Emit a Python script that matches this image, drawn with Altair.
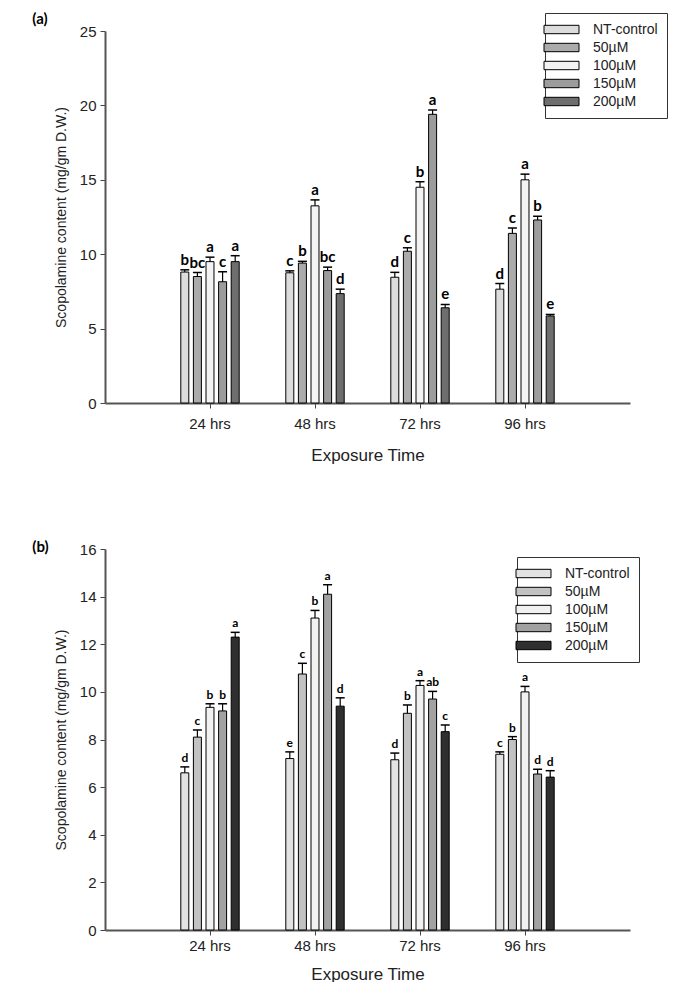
import altair as alt
import pandas as pd

times = ["24 hrs", "48 hrs", "72 hrs", "96 hrs"]
treatments = ["NT-control", "50µM", "100µM", "150µM", "200µM"]

# Panel (a): one list per exposure time, in treatment order
a_24_values = [8.8, 8.5, 9.5, 8.15, 9.5]
a_48_values = [8.75, 9.4, 13.25, 8.9, 7.35]
a_72_values = [8.45, 10.2, 14.5, 19.4, 6.4]
a_96_values = [7.65, 11.4, 15.0, 12.3, 5.85]
a_24_err = [0.15, 0.27, 0.3, 0.67, 0.4]
a_48_err = [0.13, 0.12, 0.4, 0.23, 0.3]
a_72_err = [0.33, 0.23, 0.37, 0.29, 0.22]
a_96_err = [0.38, 0.36, 0.38, 0.25, 0.1]
a_24_letters = ["b", "bc", "a", "c", "a"]
a_48_letters = ["c", "b", "a", "bc", "d"]
a_72_letters = ["d", "c", "b", "a", "e"]
a_96_letters = ["d", "c", "a", "b", "e"]

# Panel (b)
b_24_values = [6.6, 8.1, 9.35, 9.2, 12.3]
b_48_values = [7.2, 10.75, 13.1, 14.1, 9.4]
b_72_values = [7.15, 9.1, 10.27, 9.7, 8.33]
b_96_values = [7.38, 8.0, 10.0, 6.55, 6.42]
b_24_err = [0.25, 0.3, 0.15, 0.3, 0.2]
b_48_err = [0.28, 0.45, 0.32, 0.4, 0.35]
b_72_err = [0.28, 0.35, 0.2, 0.32, 0.28]
b_96_err = [0.1, 0.12, 0.23, 0.2, 0.27]
b_24_letters = ["d", "c", "b", "b", "a"]
b_48_letters = ["e", "c", "b", "a", "d"]
b_72_letters = ["d", "b", "a", "ab", "c"]
b_96_letters = ["c", "b", "a", "d", "d"]

a_colors = ["#dcdcdc", "#ababab", "#f3f3f3", "#9c9c9c", "#6e6e6e"]
b_colors = ["#e2e2e2", "#c2c2c2", "#f1f1f1", "#a2a2a2", "#2f2f2f"]


def make_df(values, errs, letters):
    rows = []
    for t, vals, es, ls in zip(times, values, errs, letters):
        for tr, v, e, l in zip(treatments, vals, es, ls):
            rows.append({"time": t, "treatment": tr, "value": v, "err": e,
                         "top": v + e, "letter": l})
    return pd.DataFrame(rows)


df_a = make_df([a_24_values, a_48_values, a_72_values, a_96_values],
               [a_24_err, a_48_err, a_72_err, a_96_err],
               [a_24_letters, a_48_letters, a_72_letters, a_96_letters])
df_b = make_df([b_24_values, b_48_values, b_72_values, b_96_values],
               [b_24_err, b_48_err, b_72_err, b_96_err],
               [b_24_letters, b_48_letters, b_72_letters, b_96_letters])

AXFONT = "Liberation Sans"
LETFONT = "Lato"


def panel(df, ymax, ystep, colors, letter_size, label, height, lx, ly, toff,
          xlabpad, xtitlepad):
    x = alt.X("time:N", sort=times,
              scale=alt.Scale(paddingInner=0.204, paddingOuter=0.602),
              axis=alt.Axis(title="Exposure Time", labelAngle=0,
                            labelFont=AXFONT, labelFontSize=15, labelColor="#222",
                            labelPadding=xlabpad, tickSize=5, tickColor="#444",
                            domainColor="#555", domainWidth=2,
                            titleFont=AXFONT, titleFontSize=17, titleFontWeight="normal",
                            titleColor="#222", titlePadding=xtitlepad))
    xo = alt.XOffset("treatment:N", sort=treatments,
                     scale=alt.Scale(paddingInner=0.365, paddingOuter=1))
    yvals = list(range(0, ymax + 1, ystep))
    y = alt.Y("value:Q", scale=alt.Scale(domain=[0, ymax], nice=False),
              axis=alt.Axis(title="Scopolamine content (mg/gm D.W.)", values=yvals,
                            grid=False, labelFont=AXFONT, labelFontSize=15,
                            labelColor="#222", tickSize=5, tickColor="#444",
                            labelPadding=4, domainColor="#555", domainWidth=2,
                            titleFont=AXFONT, titleFontSize=14, titleFontWeight="normal",
                            titleColor="#222", titlePadding=11))
    color = alt.Color("treatment:N", sort=treatments,
                      scale=alt.Scale(domain=treatments, range=colors),
                      legend=alt.Legend(title=None, orient="none", legendX=lx, legendY=ly,
                                        strokeColor="#333", fillColor="white",
                                        padding=9, rowPadding=3,
                                        symbolType="M-2.5,-0.6H2.5V0.6H-2.5Z",
                                        symbolSize=196, symbolStrokeColor="black",
                                        symbolStrokeWidth=1, symbolOpacity=1,
                                        labelFont=AXFONT, labelFontSize=14,
                                        labelColor="#222", labelOffset=24))
    base = alt.Chart(df)
    bars = base.mark_bar(stroke="black", strokeWidth=1, opacity=1).encode(
        x=x, xOffset=xo, y=y, color=color)
    whisk = base.mark_rule(color="black", strokeWidth=1.2).encode(
        x=x, xOffset=xo, y="value:Q", y2="top:Q")
    caps = base.mark_tick(color="black", thickness=1.5, size=9, opacity=1).encode(
        x=x, xOffset=xo, y="top:Q")
    text = base.mark_text(font=LETFONT, fontWeight="bold", fontSize=letter_size,
                          baseline="bottom", dy=-2, color="black").encode(
        x=x, xOffset=xo, y="top:Q", text="letter:N")
    return alt.layer(bars, whisk, caps, text).properties(
        width=525, height=height,
        title=alt.TitleParams(label, anchor="start", font=LETFONT, fontSize=15,
                              fontWeight="bold", color="black", dx=-22, offset=toff))


pa = panel(df_a, 25, 5, a_colors, 15, "(a)", 372, 440, -18, -14, 8, 16)
pb = panel(df_b, 16, 2, b_colors, 12, "(b)", 381, 412, 8, -13, 3, 13)

chart = alt.vconcat(pa, pb, spacing=77).resolve_scale(color="independent").configure_view(
    stroke=None).properties(padding={"left": 24, "top": 3, "right": 5, "bottom": 0})

chart.save("out.html", embed_options={"renderer": "svg", "actions": False})
